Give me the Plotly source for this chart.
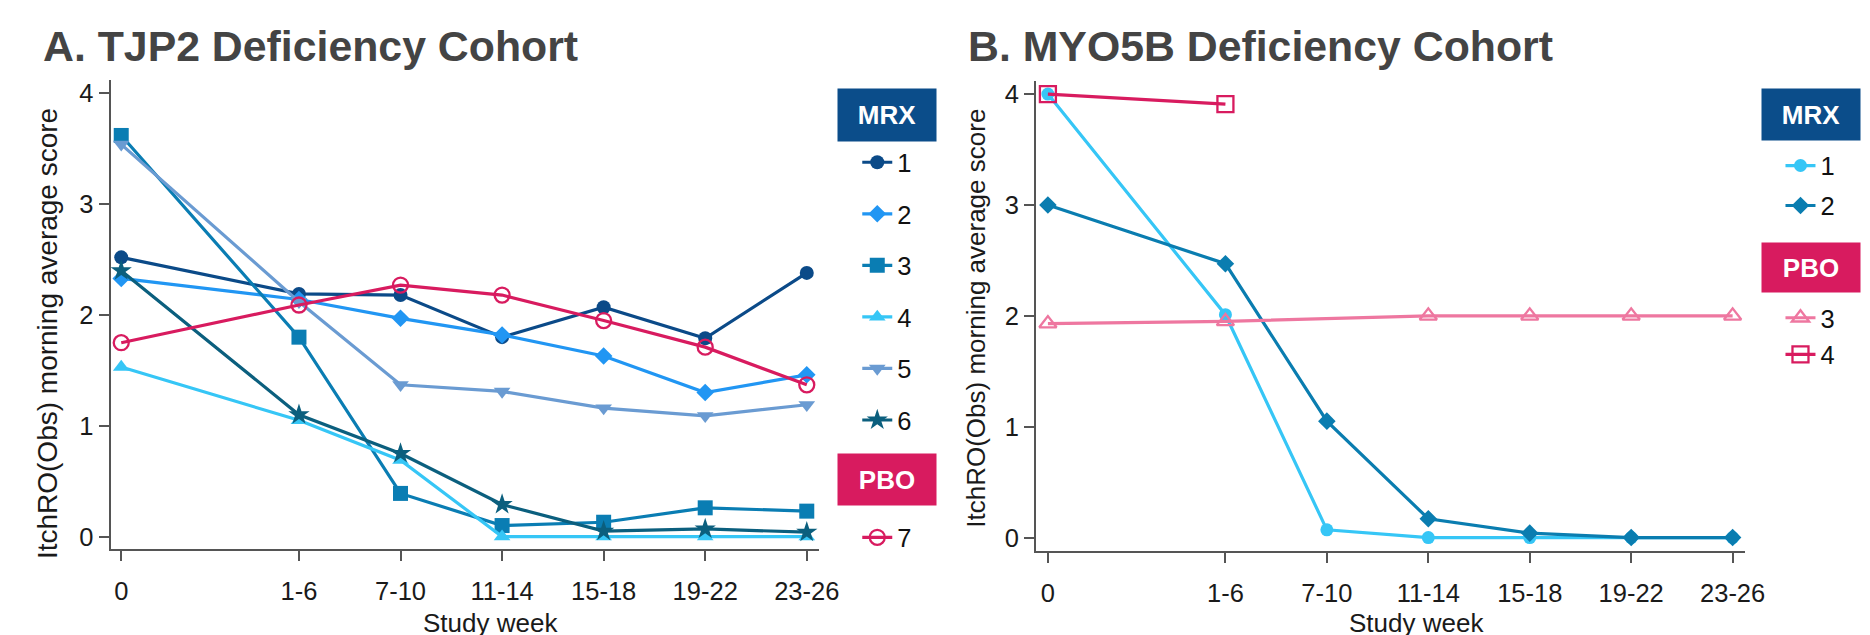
import plotly.graph_objects as go

# ---------------- data ----------------
weeks = ["0", "1-6", "7-10", "11-14", "15-18", "19-22", "23-26"]
# axis coordinate of each visit: baseline at 0, otherwise the week after the range ends
week_x = [0 if w == "0" else int(w.split("-")[1]) + 1 for w in weeks]

# Panel A: TJP2 deficiency cohort
tjp2_mrx_1 = [2.52, 2.19, 2.18, 1.80, 2.07, 1.79, 2.38]
tjp2_mrx_2 = [2.33, 2.14, 1.97, 1.82, 1.63, 1.30, 1.46]
tjp2_mrx_3 = [3.62, 1.80, 0.39, 0.10, 0.13, 0.26, 0.23]
tjp2_mrx_4 = [1.53, 1.05, 0.69, 0.00, 0.00, 0.00, 0.00]
tjp2_mrx_5 = [3.54, 2.12, 1.37, 1.31, 1.16, 1.09, 1.19]
tjp2_mrx_6 = [2.40, 1.10, 0.75, 0.29, 0.05, 0.07, 0.04]
tjp2_pbo_7 = [1.75, 2.09, 2.27, 2.18, 1.95, 1.71, 1.37]

# Panel B: MYO5B deficiency cohort
myo5b_mrx_1 = [4.00, 2.01, 0.07, 0.00, 0.00, 0.00, 0.00]
myo5b_mrx_2 = [3.00, 2.47, 1.05, 0.17, 0.04, 0.00, 0.00]
myo5b_pbo_3 = [1.93, 1.95, None, 2.00, 2.00, 2.00, 2.00]
myo5b_pbo_4 = [4.00, 3.91, None, None, None, None, None]

titles = ["A. TJP2 Deficiency Cohort", "B. MYO5B Deficiency Cohort"]
y_title = "ItchRO(Obs) morning average score"
x_title = "Study week"

# ---------------- styling ----------------
W, H = 1870, 635
FONT = "Liberation Sans, Arial, Helvetica, sans-serif"
NAVY = "#0b4d8a"
CRIMSON = "#d81b5f"
AXIS = "#555555"


def px(x):
    return x / W


def py(y):
    return 1 - y / H


fig = go.Figure()


def add(y, name, color, symbol, size, xa, ya, legend, group, open_=False, gaps=False):
    fig.add_trace(go.Scatter(
        x=week_x, y=y, mode="lines+markers", name=name,
        line=dict(color=color, width=3.2),
        marker=dict(symbol=symbol, size=size, color=color,
                    line=dict(width=2.3 if open_ else 0, color=color)),
        xaxis=xa, yaxis=ya, legend=legend, legendgroup=group,
        connectgaps=gaps, cliponaxis=False,
    ))


# Panel A traces
add(tjp2_mrx_1, "1", "#0b4a88", "circle", 14, "x", "y", "legend", "a1")
add(tjp2_mrx_2, "2", "#2196f3", "diamond", 13.5, "x", "y", "legend", "a2")
add(tjp2_mrx_3, "3", "#0a7db3", "square", 15, "x", "y", "legend", "a3")
add(tjp2_mrx_4, "4", "#36c6f6", "triangle-up", 14.5, "x", "y", "legend", "a4")
add(tjp2_mrx_5, "5", "#6a9bd2", "triangle-down", 14.5, "x", "y", "legend", "a5")
add(tjp2_mrx_6, "6", "#0b5f7e", "star", 16, "x", "y", "legend", "a6")
add(tjp2_pbo_7, "7", "#d81b5f", "circle-open", 15, "x", "y", "legend2", "a7", open_=True)

# Panel B traces
add(myo5b_mrx_1, "1", "#36c6f6", "circle", 13, "x2", "y2", "legend3", "b1")
add(myo5b_mrx_2, "2", "#0a7db0", "diamond", 13.5, "x2", "y2", "legend3", "b2")
add(myo5b_pbo_3, "3", "#ee77a0", "triangle-up-open", 15, "x2", "y2", "legend4", "b3", open_=True, gaps=True)
add(myo5b_pbo_4, "4", "#d81b5f", "square-open", 16, "x2", "y2", "legend4", "b4", open_=True)

axis_common = dict(
    showline=True, linecolor=AXIS, linewidth=2.3, ticks="outside", ticklen=10,
    tickwidth=2.3, tickcolor=AXIS, showgrid=False, zeroline=False,
    tickfont=dict(family=FONT, size=25.5, color="#1a1a1a"), fixedrange=True,
)

fig.update_layout(
    width=W, height=H, margin=dict(l=0, r=0, t=0, b=0),
    paper_bgcolor="white", plot_bgcolor="white",
    font=dict(family=FONT, color="#1a1a1a"),
    xaxis=dict(domain=[px(112), px(828)], range=[-0.413, 27.47], anchor="y",
               tickvals=week_x, ticktext=weeks, ticklabelstandoff=8, **axis_common),
    yaxis=dict(domain=[py(550), py(79.3)], range=[-0.114, 4.12], anchor="x",
               tickvals=[0, 1, 2, 3, 4], **axis_common),
    xaxis2=dict(domain=[px(1048), px(1765)], range=[-0.46, 27.495], anchor="y2",
                tickvals=week_x, ticktext=weeks, ticklabelstandoff=8, **axis_common),
    yaxis2=dict(domain=[py(551.5), py(80)], range=[-0.119, 4.12], anchor="x2",
                tickvals=[0, 1, 2, 3, 4], **axis_common),
    showlegend=True,
)

legend_common = dict(xanchor="left", yanchor="top", bgcolor="rgba(0,0,0,0)",
                     traceorder="grouped", font=dict(family=FONT, size=25.5, color="#111111"))
fig.update_layout(
    legend=dict(x=px(867), y=py(138.6), tracegroupgap=15.4, **legend_common),
    legend2=dict(x=px(867), y=py(514.9), tracegroupgap=0, **legend_common),
    legend3=dict(x=px(1800.7), y=py(141.9), tracegroupgap=3.8, **legend_common),
    legend4=dict(x=px(1800.7), y=py(294.6), tracegroupgap=0.5, **legend_common),
)

ann = []
# panel titles
ann.append(dict(text="<b>" + titles[0] + "</b>", x=px(41), y=py(44.7), xanchor="left", yanchor="middle",
                font=dict(family=FONT, size=42.8, color="#444444")))
ann.append(dict(text="<b>" + titles[1] + "</b>", x=px(976.5), y=py(44.7), xanchor="left", yanchor="middle",
                font=dict(family=FONT, size=42.8, color="#444444")))
# axis titles
ann.append(dict(text=y_title, x=px(48.7), y=py(334), textangle=-90, xanchor="center", yanchor="middle",
                font=dict(family=FONT, size=28, color="#1a1a1a")))
ann.append(dict(text=y_title, x=px(987.3), y=py(318.5), textangle=-90, xanchor="center", yanchor="middle",
                font=dict(family=FONT, size=26, color="#1a1a1a")))
ann.append(dict(text=x_title, x=px(496.5), y=py(624.3), xanchor="center", yanchor="middle",
                font=dict(family=FONT, size=26, color="#1a1a1a")))
ann.append(dict(text=x_title, x=px(1433), y=py(624.3), xanchor="center", yanchor="middle",
                font=dict(family=FONT, size=26, color="#1a1a1a")))
# legend group headers
for label, color, cx, cy, h in [("MRX", NAVY, 897.5, 114, 52), ("PBO", CRIMSON, 897.5, 480.5, 51),
                                ("MRX", NAVY, 1832, 113.5, 51), ("PBO", CRIMSON, 1832, 267.5, 49)]:
    ann.append(dict(text="<b>" + label + "</b>", x=px(cx), y=py(cy), xanchor="center", yanchor="middle",
                    width=98, height=h, bgcolor=color, borderpad=0, align="center", valign="middle",
                    font=dict(family=FONT, size=26, color="white")))

for a in ann:
    a.update(xref="paper", yref="paper", showarrow=False)
fig.update_layout(annotations=ann)

# remove the default page margin so the figure sits at the window's top-left corner
fig.write_html("out.html", config={"displayModeBar": False},
               post_script="document.body.style.margin='0px';document.body.style.padding='0px';")
